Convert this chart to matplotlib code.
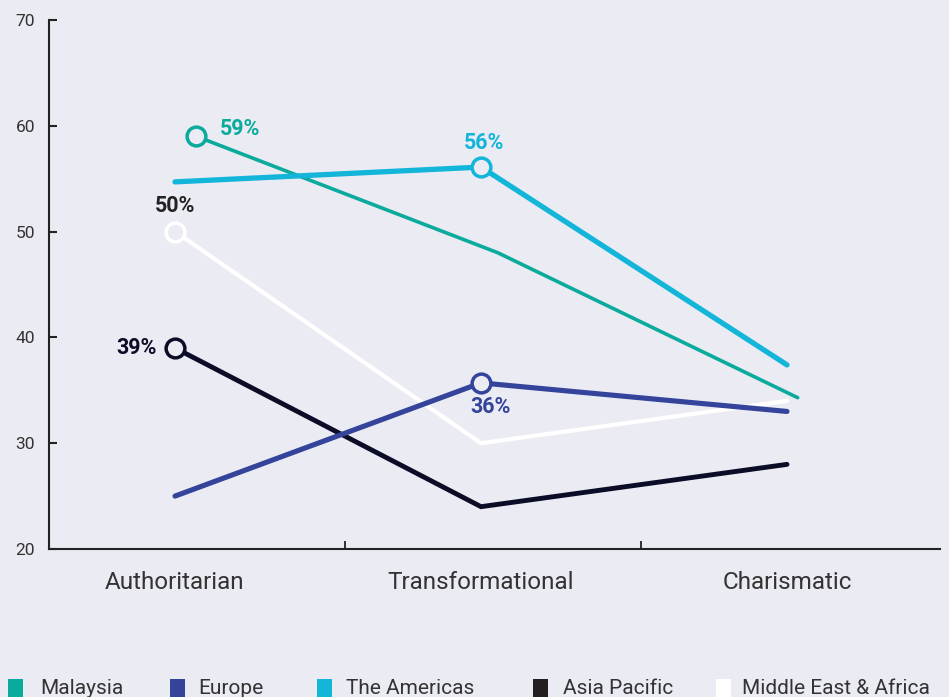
import matplotlib
matplotlib.use("Agg")
import matplotlib.pyplot as plt
from matplotlib.patches import Rectangle

categories = ["Authoritarian", "Transformational", "Charismatic"]
series_names = ["Malaysia", "Europe", "The Americas", "Asia Pacific", "Middle East & Africa"]
malaysia = [59, 48, 34.3]
europe = [25, 35.7, 33]
americas = [54.7, 56.1, 37.4]
asia_pacific = [39, 24, 28]
mea = [50, 30, 34]
yticks = [20, 30, 40, 50, 60, 70]

BG = "#ebebf4"
colors = {
    "Malaysia": "#0aab9c",
    "Europe": "#35449b",
    "The Americas": "#13b5d9",
    "Asia Pacific": "#0b0c26",
    "Middle East & Africa": "#ffffff",
}
legend_colors = dict(colors)
legend_colors["Asia Pacific"] = "#231f20"

values = {
    "Malaysia": malaysia,
    "Europe": europe,
    "The Americas": americas,
    "Asia Pacific": asia_pacific,
    "Middle East & Africa": mea,
}
widths = {"Malaysia": 2.6, "Europe": 3.7, "The Americas": 3.8,
          "Asia Pacific": 3.5, "Middle East & Africa": 3.0}
xoff = {"Malaysia": [0.07, 0.055, 0.035]}
# which point carries a marker + label
highlight = {"Malaysia": 0, "The Americas": 1, "Middle East & Africa": 0,
             "Asia Pacific": 0, "Europe": 1}
label_style = {
    "Malaysia": dict(dx=0.075, dy=0.7, ha="left", va="center"),
    "The Americas": dict(dx=0.01, dy=2.3, ha="center", va="center"),
    "Middle East & Africa": dict(dx=0.0, dy=2.4, ha="center", va="center"),
    "Asia Pacific": dict(dx=-0.06, dy=0.0, ha="right", va="center"),
    "Europe": dict(dx=0.03, dy=-2.3, ha="center", va="center"),
}
label_colors = dict(colors)
label_colors["Middle East & Africa"] = "#222222"
label_colors["Asia Pacific"] = "#0b0c26"

plt.rcParams["font.family"] = ["Roboto", "DejaVu Sans"]
fig = plt.figure(figsize=(9.49, 6.97), dpi=100, facecolor=BG)
ax = fig.add_axes([49/949, 1-549/697, (940-49)/949, (549-20)/697])
ax.set_facecolor(BG)

order = ["Malaysia", "The Americas", "Middle East & Africa", "Asia Pacific", "Europe"]
zorders = {"Malaysia": 3, "The Americas": 4, "Middle East & Africa": 2,
           "Asia Pacific": 3, "Europe": 5}
for name in order:
    vals = values[name]
    offs = xoff.get(name, [0, 0, 0])
    xs = [i + o for i, o in enumerate(offs)]
    ax.plot(xs, vals, color=colors[name], lw=widths[name],
            solid_capstyle="round", solid_joinstyle="miter", zorder=zorders[name])
    h = highlight[name]
    ax.plot([xs[h]], [vals[h]], marker="o", ms=13.5, mfc=BG,
            mec=colors[name], mew=2.5, zorder=zorders[name] + 1)
    st = label_style[name]
    ax.text(xs[h] + st["dx"], vals[h] + st["dy"], f"{round(vals[h])}%",
            color=label_colors[name], fontsize=15.5, fontweight="bold",
            ha=st["ha"], va=st["va"], zorder=10)

ax.set_xlim(-0.4118, 2.5)
ax.set_ylim(20, 70)
ax.set_yticks(yticks)
ax.set_yticklabels([str(v) for v in yticks])
ax.set_xticks(range(len(categories)))
ax.set_xticklabels(categories)
ax.set_xticks([0.556, 1.523], minor=True)
ax.tick_params(axis="x", which="major", length=0, pad=16, labelsize=17.5, labelcolor="#333333")
ax.tick_params(axis="x", which="minor", direction="in", length=6, width=1.3, color="#222222")
ax.tick_params(axis="y", direction="in", length=6, width=1.5, color="#222222",
               labelsize=12.5, labelcolor="#333333", pad=10)
for s in ["top", "right"]:
    ax.spines[s].set_visible(False)
for s in ["left", "bottom"]:
    ax.spines[s].set_color("#222222")
    ax.spines[s].set_linewidth(1.5)

# legend along the bottom edge
leg_sq = [8, 170, 317, 533, 716]
leg_tx = [40, 198, 346, 563, 742]
for name, px, tx in zip(series_names, leg_sq, leg_tx):
    fig.patches.append(Rectangle((px/949, 0), 15/949, 18/697,
                                 transform=fig.transFigure, facecolor=legend_colors[name],
                                 edgecolor="none"))
    fig.text(tx/949, 1-688/697, name, fontsize=15, color="#333333",
             ha="left", va="center", fontstretch="condensed")

fig.savefig("out.png", dpi=100, facecolor=BG)
